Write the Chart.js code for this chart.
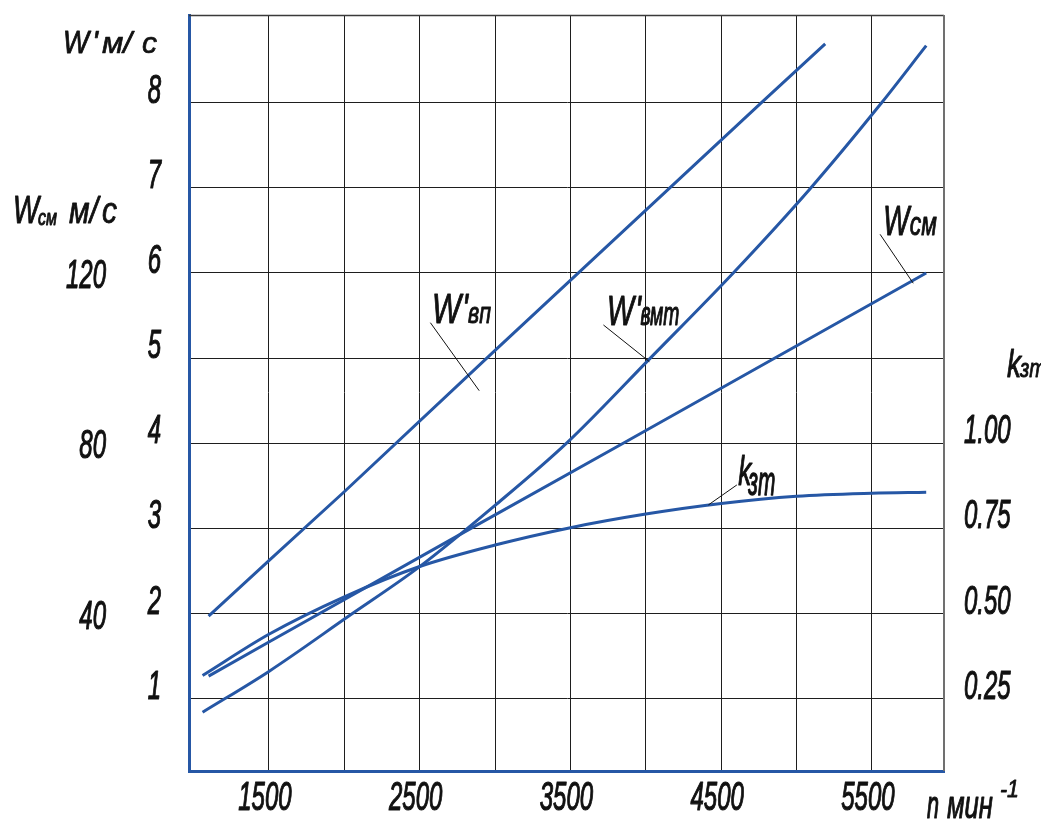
<!DOCTYPE html>
<html>
<head>
<meta charset="utf-8">
<script src="https://cdn.jsdelivr.net/npm/chart.js@4.4.1/dist/chart.umd.min.js"></script>
<style>
  html, body { margin: 0; padding: 0; background: #ffffff; }
  canvas { display: block; }
</style>
</head>
<body>
<canvas id="chart" width="1041" height="819"></canvas>
<script>
// Crankshaft speed grid and labelled ticks, min^-1
const rpmGrid = [1500, 2000, 2500, 3000, 3500, 4000, 4500, 5000, 5500];
const rpmLabels = [1500, 2500, 3500, 4500, 5500];
// Left scale W', m/s
const wTicks = [1, 2, 3, 4, 5, 6, 7, 8];
// Left outer scale W_см, m/s
const wSmTicks = [40, 80, 120];
// Right scale k_зт
const kTicks = [0.25, 0.50, 0.75, 1.00];

// W'вп
const rpmVp = [1100, 1500, 2000, 2970, 4760, 5190];
const wVp = [1.97, 2.62, 3.43, 5.04, 7.99, 8.69];
// W'вмт
const rpmVmt = [1060, 1500, 2030, 2500, 3000, 3480, 4030, 4580, 5090, 5560, 5860];
const wVmt = [0.84, 1.32, 1.97, 2.55, 3.27, 4.01, 5.00, 6.00, 6.99, 7.99, 8.67];
// W_см
const rpmSm = [1100, 1500, 2840, 3850, 5860];
const wSm = [25.3, 33.3, 60, 80, 120];
// k_зт
const rpmK = [1060, 1500, 2000, 2500, 3000, 3500, 4000, 4500, 5000, 5500, 5860];
const kZt = [0.318, 0.439, 0.549, 0.638, 0.701, 0.752, 0.792, 0.823, 0.844, 0.853, 0.856];

// Axis extents (W_см = 20·W', k = 0.25·W' on the shared grid)
const rpmRange = [970, 5978];
const wRange = [0.15, 9.03];

const BLUE = '#2657a5';
const INK = '#111111';
const FONT = '"Liberation Sans", Arimo, Arial, sans-serif';

const pts = (xs, ys) => xs.map((x, i) => ({ x: x, y: ys[i] }));

// In-plot curve captions: anchor in (rpm, W'), text parts [text, dx, dy, size, width]
const captions = [
  { at: [2582, 5.41], parts: [['W', 0, 0, 42, 29], ["'", 30, 0, 42, 6], ['вп', 36, 0, 29, 23]],
    leader: [[2571, 5.416], [2895, 4.617]] },
  { at: [3742, 5.39], parts: [['W', 0, 0, 42, 27], ["'", 28, 0, 42, 6], ['вмт', 33.5, 0, 33, 39]],
    leader: [[3719, 5.389], [4024, 4.958]] },
  { at: [5575, 6.446], parts: [['W', 0, 0, 42, 26], ['см', 26.5, 0, 33, 27]],
    leader: [[5554, 6.454], [5774, 5.879]] },
  { at: [4614, 3.51], parts: [['k', 0, 0, 40, 13], ['зт', 10, 10, 40, 27]],
    leader: [[4604, 3.51], [4415, 3.275]] }
];

// Draw text squeezed horizontally to a given width, with a light outline for weight
function fitText(ctx, s, x, y, size, width) {
  ctx.font = 'italic ' + size + 'px ' + FONT;
  const w = ctx.measureText(s).width;
  const sx = width / w;
  ctx.save();
  ctx.translate(x, y);
  ctx.scale(sx, 1);
  ctx.textAlign = 'left';
  ctx.textBaseline = 'alphabetic';
  ctx.fillStyle = INK;
  ctx.strokeStyle = INK;
  ctx.lineWidth = 0.7 / sx;
  ctx.lineJoin = 'round';
  ctx.fillText(s, 0, 0);
  ctx.strokeText(s, 0, 0);
  ctx.restore();
}

// Condensed tick numerals
function tickText(ctx, s, x, y, align) {
  const size = 40, squeeze = 0.6;
  ctx.font = 'italic ' + size + 'px ' + FONT;
  const w = ctx.measureText(s).width * squeeze;
  let left = x;
  if (align === 'right') left = x - w;
  else if (align === 'center') left = x - w / 2;
  fitText(ctx, s, left, y, size, w);
}

const decorations = {
  id: 'decorations',
  afterDraw(chart) {
    const ctx = chart.ctx;
    const a = chart.chartArea;
    const sx = chart.scales.x, sy = chart.scales.y, sSm = chart.scales.ySm, sK = chart.scales.yK;

    // frame: top and right edges
    ctx.save();
    ctx.strokeStyle = '#3a3a3a';
    ctx.lineWidth = 1.5;
    ctx.beginPath();
    ctx.moveTo(a.left, a.top + 0.5);
    ctx.lineTo(a.right, a.top + 0.5);
    ctx.stroke();
    ctx.strokeStyle = '#707070';
    ctx.lineWidth = 2;
    ctx.beginPath();
    ctx.moveTo(a.right, a.top);
    ctx.lineTo(a.right, a.bottom);
    ctx.stroke();
    ctx.restore();

    // tick labels
    sy.ticks.forEach(t => tickText(ctx, String(t.value), 161, sy.getPixelForValue(t.value), 'right'));
    sSm.ticks.forEach(t => tickText(ctx, String(t.value), 106, sSm.getPixelForValue(t.value) + 15, 'right'));
    sK.ticks.forEach(t => tickText(ctx, t.value.toFixed(2), 964, sK.getPixelForValue(t.value), 'left'));
    rpmLabels.forEach(v => tickText(ctx, String(v), sx.getPixelForValue(v) - 4, 810, 'center'));

    // axis titles
    fitText(ctx, 'W', 63, 53, 32, 26);
    fitText(ctx, "'", 92, 53, 32, 6);
    fitText(ctx, 'м/', 102, 53, 30, 30);
    fitText(ctx, 'с', 142, 53, 30, 15);

    fitText(ctx, 'W', 13, 223, 38, 26);
    fitText(ctx, 'см', 38, 225, 22, 19);
    fitText(ctx, 'м/', 69, 223, 36, 29);
    fitText(ctx, 'с', 102, 223, 36, 15);

    fitText(ctx, 'k', 1007, 377, 39, 14);
    fitText(ctx, 'зт', 1020, 377, 26, 26);

    fitText(ctx, 'n', 927, 818, 38, 12);
    fitText(ctx, 'мин', 947, 818, 38, 46);
    fitText(ctx, '-1', 1000, 797, 23, 19);

    // curve captions with leader lines
    captions.forEach(c => {
      const x0 = sx.getPixelForValue(c.at[0]);
      const y0 = sy.getPixelForValue(c.at[1]);
      c.parts.forEach(p => fitText(ctx, p[0], x0 + p[1], y0 + p[2], p[3], p[4]));
      ctx.save();
      ctx.strokeStyle = '#111111';
      ctx.lineWidth = 1;
      ctx.beginPath();
      ctx.moveTo(sx.getPixelForValue(c.leader[0][0]), sy.getPixelForValue(c.leader[0][1]));
      ctx.lineTo(sx.getPixelForValue(c.leader[1][0]), sy.getPixelForValue(c.leader[1][1]));
      ctx.stroke();
      ctx.restore();
    });
  }
};

const line = (data, axis, smooth) => ({
  data: data,
  yAxisID: axis,
  borderColor: BLUE,
  borderWidth: 3,
  pointRadius: 0,
  fill: false,
  tension: smooth ? 0.4 : 0,
  cubicInterpolationMode: smooth ? 'monotone' : 'default',
  borderCapStyle: 'butt'
});

new Chart(document.getElementById('chart'), {
  type: 'line',
  data: {
    datasets: [
      line(pts(rpmVp, wVp), 'y', false),
      line(pts(rpmVmt, wVmt), 'y', true),
      line(pts(rpmSm, wSm), 'ySm', false),
      line(pts(rpmK, kZt), 'yK', true)
    ]
  },
  options: {
    responsive: false,
    devicePixelRatio: 1,
    animation: false,
    layout: { padding: { top: 15, right: 97, left: 0, bottom: 0 } },
    plugins: { legend: { display: false }, tooltip: { enabled: false } },
    scales: {
      x: {
        type: 'linear',
        min: rpmRange[0],
        max: rpmRange[1],
        afterBuildTicks: s => { s.ticks = rpmGrid.map(v => ({ value: v })); },
        afterFit: s => { s.height = 48; },
        grid: { color: '#1e1e1e', lineWidth: 1, drawTicks: false },
        border: { color: BLUE, width: 3 },
        ticks: { display: false }
      },
      y: {
        type: 'linear',
        position: 'left',
        min: wRange[0],
        max: wRange[1],
        afterBuildTicks: s => { s.ticks = wTicks.map(v => ({ value: v })); },
        afterFit: s => { s.width = 189; },
        grid: { color: '#1e1e1e', lineWidth: 1, drawTicks: false },
        border: { color: BLUE, width: 3 },
        ticks: { display: false }
      },
      ySm: {
        type: 'linear',
        position: 'left',
        display: false,
        min: wRange[0] * 20,
        max: wRange[1] * 20,
        afterBuildTicks: s => { s.ticks = wSmTicks.map(v => ({ value: v })); }
      },
      yK: {
        type: 'linear',
        position: 'right',
        display: false,
        min: wRange[0] * 0.25,
        max: wRange[1] * 0.25,
        afterBuildTicks: s => { s.ticks = kTicks.map(v => ({ value: v })); }
      }
    }
  },
  plugins: [decorations]
});
</script>
</body>
</html>
